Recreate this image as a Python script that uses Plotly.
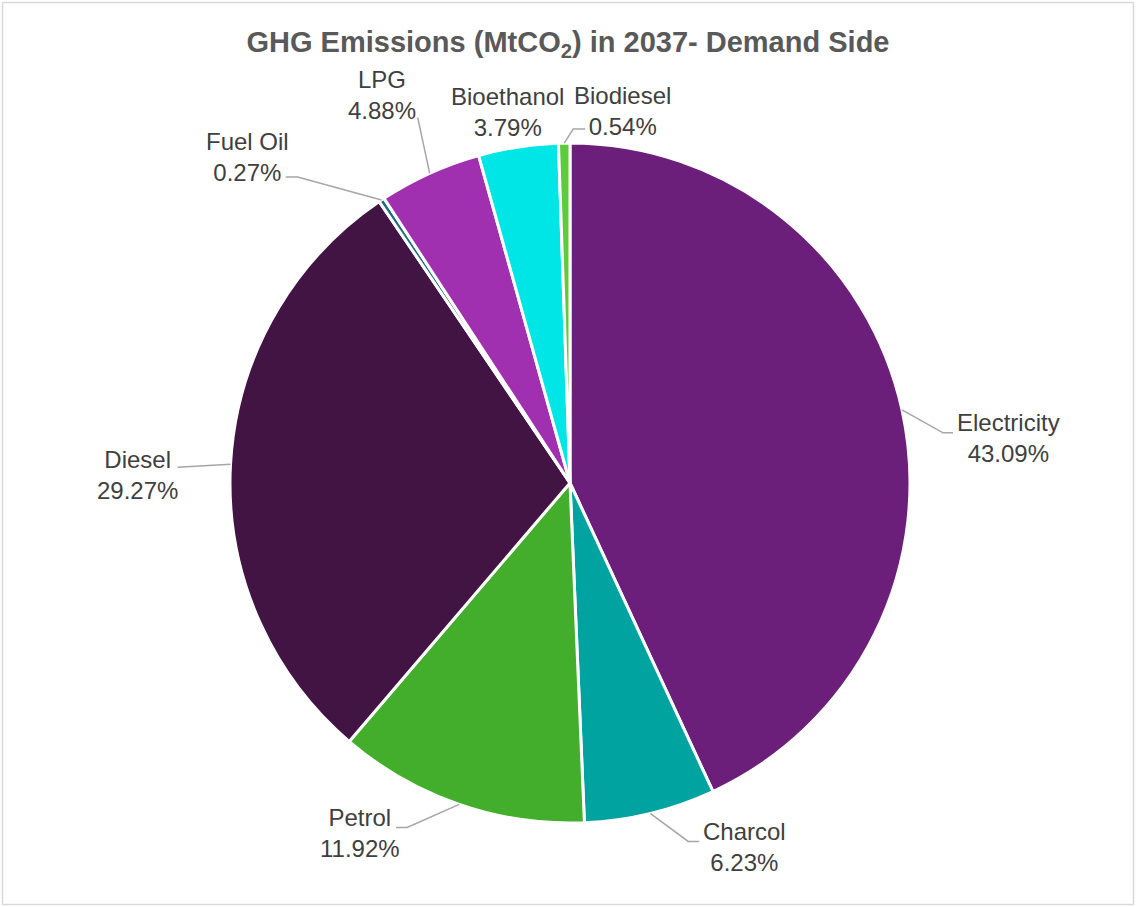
import math
import plotly.graph_objects as go

# Share of demand-side GHG emissions in 2037, clockwise from 12 o'clock
fuels = ["Electricity", "Charcol", "Petrol", "Diesel", "Fuel Oil", "LPG", "Bioethanol", "Biodiesel"]
shares = [43.09, 6.23, 11.92, 29.27, 0.27, 4.88, 3.79, 0.54]
colors = ["#6B1F7A", "#00A3A0", "#43AE2B", "#421444", "#1E6E78", "#A030B0", "#00E6E6", "#5CCB3E"]

# Label placement (pixels): leader elbow relative to slice edge, horizontal tail,
# and text-block centre relative to the tail end
elbow_off = [(41, 23), (38, 28), (-52, 23), (-53, 3), (-84, -23), (-12, -56), (0, 0), (9, -14)]
tail_len = [10, 11, -11, 0, -12, 0, 0, 12]
text_off = [(55, 5), (45, 6), (-36, 6), (-40, 8), (-38, -20), (-36, -22), (-11, -35), (37, -18)]

W, H = 1136, 907
CX, CY, R = 570, 483, 340  # pie centre and radius in pixels

fig = go.Figure(go.Pie(
    labels=fuels,
    values=shares,
    sort=False,
    direction="clockwise",
    rotation=0,
    marker=dict(colors=colors, line=dict(color="white", width=3)),
    textinfo="none",
    hoverinfo="label+percent",
    showlegend=False,
    domain=dict(x=[(CX - R) / W, (CX + R) / W], y=[1 - (CY + R) / H, 1 - (CY - R) / H]),
))


def px2paper(x, y):
    return x / W, 1 - y / H


total = sum(shares)
cum = 0.0
annotations = []
shapes = []
for i, (name, v) in enumerate(zip(fuels, shares)):
    mid = (cum + v / 2) / total * 2 * math.pi
    cum += v
    px = CX + R * math.sin(mid)
    py = CY - R * math.cos(mid)
    ex, ey = px + elbow_off[i][0], py + elbow_off[i][1]
    hx, hy = ex + tail_len[i], ey
    if elbow_off[i] != (0, 0):
        pts = [px2paper(px, py), px2paper(ex, ey), px2paper(hx, hy)]
        path = "M {},{} L {},{} L {},{}".format(*[c for p in pts for c in p])
        shapes.append(dict(type="path", xref="paper", yref="paper", path=path,
                           line=dict(color="#A6A6A6", width=1.5)))
    tx, ty = px2paper(hx + text_off[i][0], hy + text_off[i][1])
    annotations.append(dict(
        x=tx, y=ty, xref="paper", yref="paper", xanchor="center", yanchor="middle",
        text=f"{name}<br>{v:.2f}%", showarrow=False, align="center",
        font=dict(family="Liberation Sans, Arial, sans-serif", size=24, color="#404040"),
    ))

# Chart area outline
shapes.append(dict(type="rect", xref="paper", yref="paper",
                   x0=2.5 / W, x1=1 - 2.5 / W, y0=2.5 / H, y1=1 - 2.5 / H,
                   line=dict(color="#D9D9D9", width=1.5)))

fig.update_layout(
    width=W, height=H,
    margin=dict(l=0, r=0, t=0, b=0),
    paper_bgcolor="white",
    plot_bgcolor="white",
    title=dict(
        text="<b>GHG Emissions (MtCO<sub>2</sub>) in 2037- Demand Side</b>",
        x=0.5, xanchor="center", y=1 - 42 / H, yanchor="middle", yref="container",
        font=dict(family="Liberation Sans, Arial, sans-serif", size=29, color="#595959"),
    ),
    annotations=annotations,
    shapes=shapes,
)

fig.write_html("out.html")
